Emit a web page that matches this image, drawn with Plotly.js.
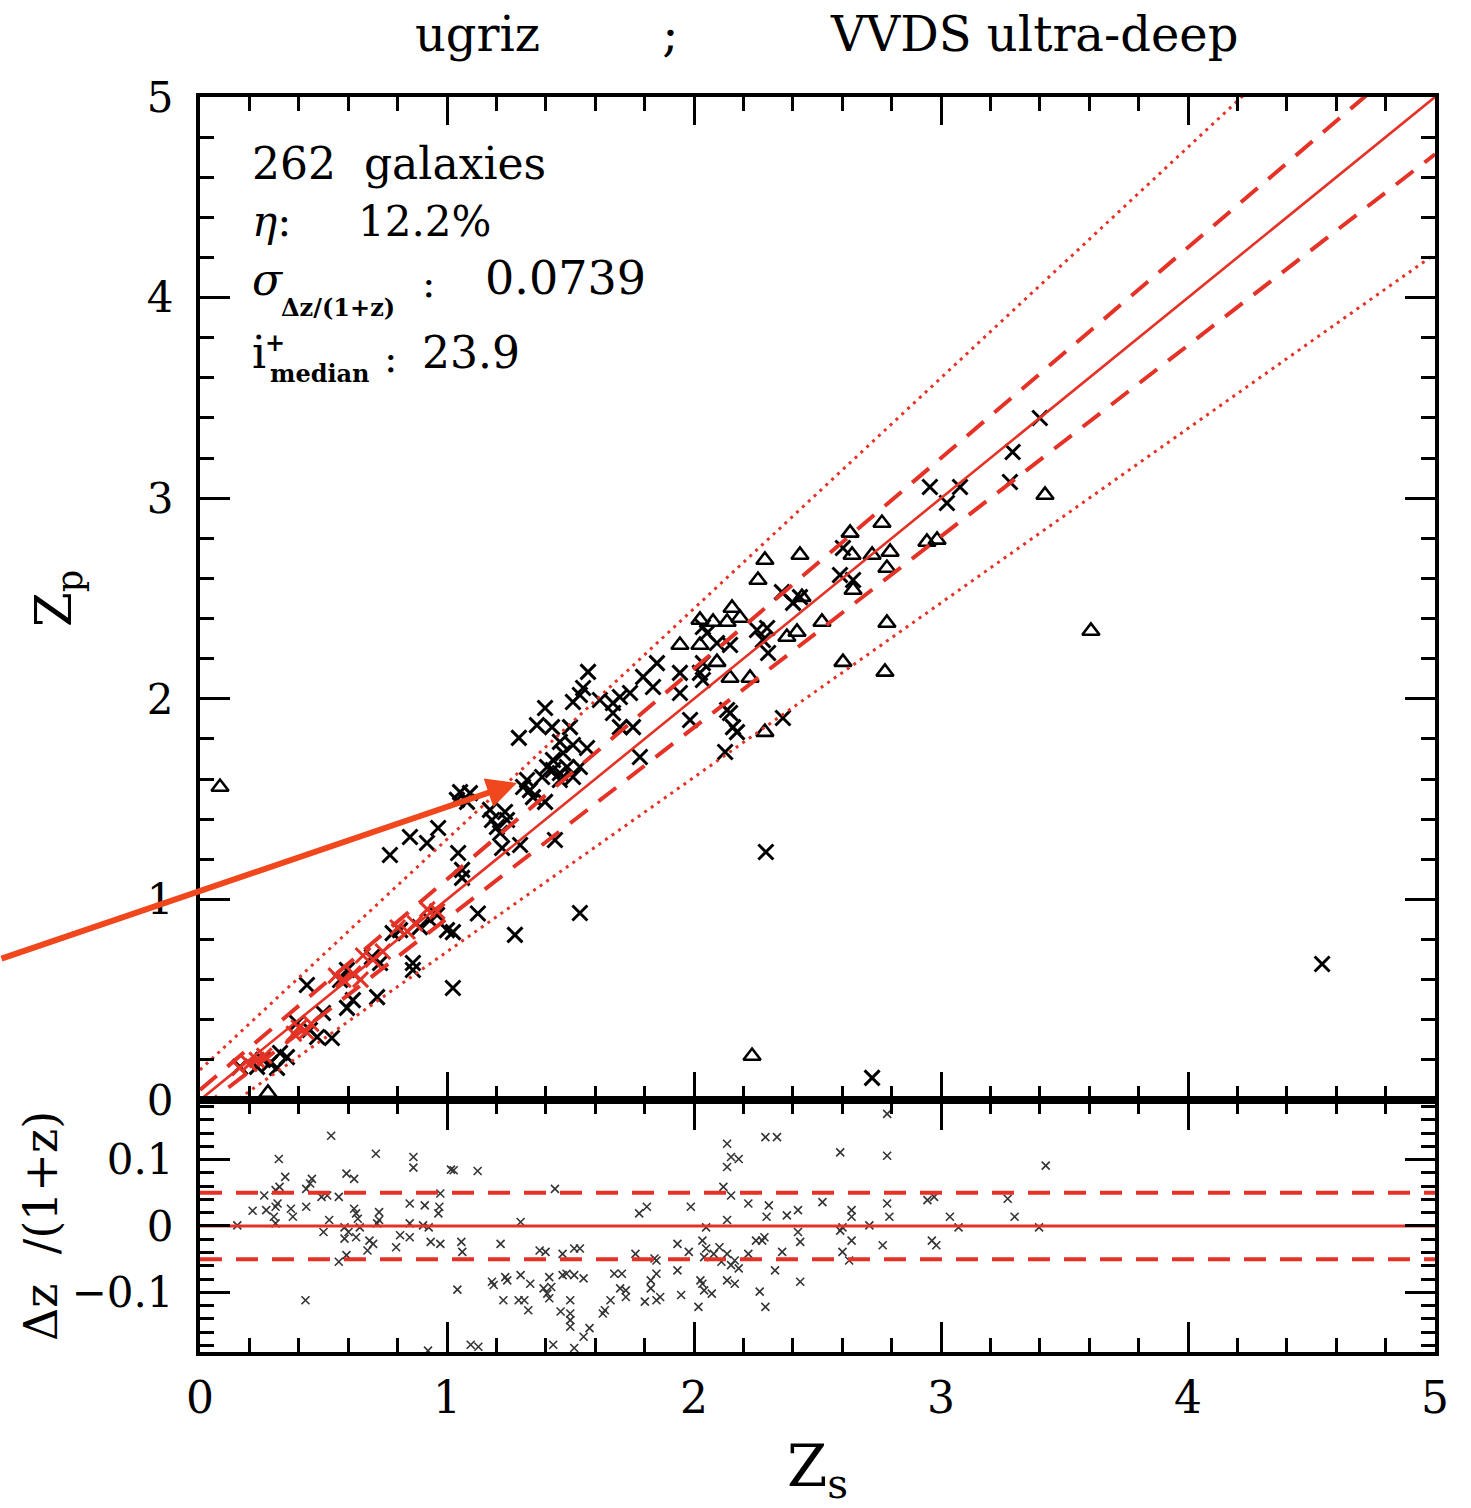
<!DOCTYPE html>
<html>
<head>
<meta charset="utf-8">
<script src="https://cdn.plot.ly/plotly-3.0.1.min.js"></script>
<style>body{margin:0;background:#fff}</style>
</head>
<body>
<div id="chart" style="width:1471px;height:1508px"></div>
<script>
// ---- data ----
// top panel: spectroscopic z (zs) vs photometric z (zp), cross markers
const zsCross = [1.125,1.024,1.024,1.0,0.862,0.862,0.931,0.96,0.89,0.81,0.78,0.696,0.729,0.433,0.717,0.595,0.567,0.619,0.595,0.534,0.498,0.445,0.474,0.393,0.324,0.283,0.312,0.352,0.255,0.231,0.162,
 1.571,1.551,1.538,1.51,1.397,1.364,1.425,1.498,1.291,1.457,1.51,1.567,1.47,1.429,1.405,1.429,1.457,1.486,1.385,1.457,1.51,1.538,1.324,1.308,1.336,1.348,1.397,1.053,1.093,1.04,1.081,1.182,1.202,1.243,1.215,1.174,1.235,0.964,0.85,0.919,0.769,1.045,1.296,1.223,1.437,1.061,1.061,1.538,1.275,
 2.955,3.024,3.077,3.279,2.603,2.591,2.644,2.356,2.429,2.401,2.036,2.053,2.255,2.296,2.093,2.146,2.279,2.3,2.036,2.024,2.036,1.85,1.794,1.834,1.943,1.943,1.984,2.158,2.174,2.36,2.134,2.146,2.126,1.781,1.619,1.672,1.7,1.741,1.672,1.7,1.753,
 2.291,2.721,4.543,3.29,3.4];
const zpCross = [0.93,0.558,0.837,0.847,0.683,0.648,0.897,0.922,0.862,0.847,0.832,0.713,0.683,0.573,0.513,0.648,0.598,0.498,0.459,0.309,0.434,0.349,0.314,0.384,0.234,0.184,0.16,0.214,0.2,0.165,0.165,
 2.134,2.054,2.019,1.984,1.954,1.869,1.859,1.859,1.805,1.785,1.77,1.755,1.73,1.695,1.66,1.645,1.63,1.66,1.61,1.595,1.61,1.66,1.595,1.56,1.545,1.51,1.486,1.535,1.53,1.496,1.486,1.396,1.361,1.396,1.331,1.446,1.436,1.356,1.311,1.281,1.221,1.231,1.271,1.256,1.296,1.147,1.107,0.932,0.823,
 3.056,2.976,3.056,3.081,2.752,2.617,2.592,2.532,2.507,2.478,2.358,2.328,2.343,2.353,2.278,2.268,2.293,2.228,2.178,2.129,2.094,2.178,2.109,2.059,2.129,2.029,1.894,1.859,1.834,1.904,1.944,1.929,1.735,1.71,1.994,1.979,2.009,2.029,1.929,1.859,1.859,
 1.236,0.11,0.678,3.23,3.4];
// top panel: triangle markers
const zsTri = [0.081,0.275,2.235,3.607,3.421,2.761,2.632,2.943,2.984,2.429,2.287,2.64,2.721,2.794,2.781,2.259,2.644,2.437,2.154,2.024,2.077,2.134,2.186,2.518,2.781,2.417,2.376,1.943,2.024,2.093,2.146,2.227,2.287,2.603,2.773];
const zpTri = [1.56,0.035,0.219,2.338,3.016,2.876,2.827,2.782,2.792,2.717,2.692,2.717,2.717,2.732,2.652,2.592,2.542,2.507,2.453,2.393,2.383,2.383,2.403,2.383,2.378,2.333,2.308,2.268,2.268,2.183,2.104,2.104,1.834,2.183,2.134];
// top panel: red cross markers along the one-to-one line at low z
const zsRed = [0.16,0.2,0.23,0.26,0.38,0.4,0.43,0.45,0.55,0.58,0.62,0.65,0.66,0.7,0.74,0.8,0.84,0.87,0.92,0.96];
const zpRed = [0.16,0.18,0.2,0.22,0.33,0.36,0.34,0.38,0.62,0.6,0.63,0.6,0.72,0.7,0.74,0.86,0.84,0.88,0.95,0.94];
// bottom panel: zs vs Δz/(1+z)
const zsResid = [0.531,0.319,0.345,0.322,0.306,0.453,0.43,0.446,0.712,0.864,0.864,0.593,0.624,1.016,1.027,1.124,0.26,0.213,0.268,0.306,0.314,0.368,0.376,0.43,0.492,0.515,0.562,0.299,0.306,0.151,0.5,0.523,0.585,0.601,0.585,0.632,0.624,0.632,0.639,0.647,0.686,0.701,0.678,0.725,0.725,0.717,0.794,0.81,0.849,0.849,0.849,0.91,0.903,0.926,0.934,0.973,0.973,0.969,0.965,0.562,0.593,0.427,1.058,1.062,1.042,1.096,1.127,0.923,
 1.298,1.217,1.437,1.375,1.399,1.468,1.515,1.538,1.182,1.189,1.236,1.244,1.298,1.337,1.228,1.29,1.313,1.329,1.391,1.406,1.422,1.414,1.414,1.468,1.484,1.515,1.553,1.499,1.46,1.499,1.499,1.499,1.577,1.553,1.43,1.515,1.631,1.639,1.662,1.677,1.708,1.701,1.724,1.724,1.763,1.778,1.809,1.801,1.825,1.825,1.848,1.848,1.863,1.84,1.848,1.933,1.948,1.933,1.979,1.987,
 2.018,2.026,2.034,2.041,2.072,2.034,2.049,2.041,2.08,2.103,2.111,2.134,2.15,2.165,2.181,2.049,2.134,2.15,2.119,2.134,2.15,2.181,2.134,2.134,2.165,2.22,2.251,2.22,2.266,2.289,2.328,2.289,2.336,
 2.592,2.782,3.424,2.303,2.294,2.285,2.276,2.376,2.421,2.52,2.421,2.43,2.357,2.43,2.592,2.601,2.638,2.638,2.638,2.601,2.628,2.71,2.782,2.791,2.764,2.945,2.972,2.963,2.981,3.036,3.071,3.27,3.298,3.397,2.782];
const dzResid = [0.136,0.101,0.074,0.059,0.054,0.071,0.056,0.064,0.109,0.104,0.088,0.079,0.071,0.085,0.084,0.083,0.046,0.023,0.024,0.029,0.034,0.026,0.014,0.029,0.044,0.046,0.044,0.014,0.004,0.001,-0.009,0.009,-0.002,-0.009,-0.019,-0.017,0.026,0.019,0.011,-0.002,-0.022,-0.027,-0.037,0.021,0.009,0.004,-0.032,-0.014,-0.017,0.004,0.034,0.031,0.001,-0.002,-0.024,-0.027,0.049,0.029,0.019,-0.054,-0.044,-0.112,-0.024,-0.039,-0.096,-0.179,-0.182,-0.188,
 0.006,-0.027,0.056,-0.037,-0.039,-0.042,-0.034,-0.034,-0.084,-0.089,-0.077,-0.082,-0.074,-0.087,-0.112,-0.112,-0.112,-0.127,-0.094,-0.102,-0.092,-0.109,-0.077,-0.074,-0.072,-0.074,-0.079,-0.112,-0.129,-0.132,-0.142,-0.152,-0.154,-0.167,-0.179,-0.184,-0.132,-0.127,-0.112,-0.072,-0.072,-0.094,-0.097,-0.107,-0.042,0.019,0.029,-0.114,-0.094,-0.082,-0.072,-0.112,-0.107,-0.049,-0.052,-0.067,-0.104,-0.027,-0.039,0.029,
 -0.122,-0.082,-0.087,-0.097,-0.102,-0.022,-0.034,-0.047,-0.042,-0.032,-0.054,-0.042,-0.059,-0.052,-0.064,-0.002,0.009,0.046,0.059,0.089,0.104,0.101,0.124,-0.082,-0.087,-0.042,-0.022,0.034,-0.099,-0.122,-0.067,0.134,0.134,
 0.111,0.106,0.091,0.031,0.014,-0.017,-0.022,0.016,0.024,0.036,-0.009,-0.024,-0.039,-0.084,-0.007,-0.002,-0.022,0.014,0.024,-0.039,-0.052,0.001,0.034,0.014,-0.029,0.039,0.044,-0.022,-0.029,0.014,-0.002,0.041,0.014,-0.002,0.169];
// axis ticks and reference thresholds
const zTickVals = [0,1,2,3,4,5];
const residTickVals = [-0.1,0,0.1];
const residTickText = ['\u22120.1','0','0.1'];
const lineX = [0,5];
const dashK = 0.05;   // dashed band
const dotK = 0.15;    // dotted band (outlier limit)

// ---- drawing ----
const RED = 'rgb(229,50,38)';
const FONT = 'DejaVu Serif';
const NB = n => '\u00a0'.repeat(n);
const up = k => lineX.map(v => v + k*(1+v));
const lo = k => lineX.map(v => (v - k)/(1+k));

const traces = [
  {x: zsCross, y: zpCross, type:'scatter', mode:'markers', xaxis:'x', yaxis:'y',
   marker:{symbol:'x-thin-open', size:15, color:'black', line:{width:3, color:'black'}}},
  {x: zsTri, y: zpTri, type:'scatter', mode:'markers', xaxis:'x', yaxis:'y',
   marker:{symbol:'triangle-up-open', size:15, color:'black', line:{width:2.6, color:'black'}}},
  {x: lineX, y: lineX, type:'scatter', mode:'lines', xaxis:'x', yaxis:'y', line:{color:RED, width:2.6}},
  {x: lineX, y: up(dashK), type:'scatter', mode:'lines', xaxis:'x', yaxis:'y', line:{color:RED, width:4, dash:'22px,14px'}},
  {x: lineX, y: lo(dashK), type:'scatter', mode:'lines', xaxis:'x', yaxis:'y', line:{color:RED, width:4, dash:'22px,14px'}},
  {x: lineX, y: up(dotK), type:'scatter', mode:'lines', xaxis:'x', yaxis:'y', line:{color:RED, width:3, dash:'3px,5px'}},
  {x: lineX, y: lo(dotK), type:'scatter', mode:'lines', xaxis:'x', yaxis:'y', line:{color:RED, width:3, dash:'3px,5px'}},
  {x: zsRed, y: zpRed, type:'scatter', mode:'markers', xaxis:'x', yaxis:'y',
   marker:{symbol:'x-thin-open', size:15, color:RED, line:{width:3, color:RED}}},
  {x: zsResid, y: dzResid, type:'scatter', mode:'markers', xaxis:'x2', yaxis:'y2',
   marker:{symbol:'x-thin-open', size:8, color:'#333', line:{width:1.6, color:'#333'}}},
  {x: lineX, y: [0,0], type:'scatter', mode:'lines', xaxis:'x2', yaxis:'y2', line:{color:RED, width:3}},
  {x: lineX, y: [dashK,dashK], type:'scatter', mode:'lines', xaxis:'x2', yaxis:'y2', line:{color:RED, width:4, dash:'22px,14px'}},
  {x: lineX, y: [-dashK,-dashK], type:'scatter', mode:'lines', xaxis:'x2', yaxis:'y2', line:{color:RED, width:4, dash:'22px,14px'}}
];

const split = 0.2008;
const axBase = {showline:true, linecolor:'black', linewidth:4, mirror:'allticks', ticks:'inside',
  tickcolor:'black', tickwidth:3, showgrid:false, zeroline:false, fixedrange:true};

const txt = (x, y, text, size, extra) => Object.assign({x, y, xref:'x', yref:'y', text, showarrow:false,
  xanchor:'left', yanchor:'middle', font:{family:FONT, size, color:'black'}}, extra||{});

const layout = {
  width:1471, height:1508, showlegend:false,
  paper_bgcolor:'white', plot_bgcolor:'white',
  margin:{l:200, r:36, t:97, b:156},
  font:{family:FONT, color:'black'},
  title:{text:'ugriz' + NB(8) + ';' + NB(10) + 'VVDS ultra-deep',
    font:{family:FONT, size:48, color:'black'}, xref:'paper', x:0.174, xanchor:'left', yref:'container', y:0.977, yanchor:'middle'},
  xaxis: Object.assign({}, axBase, {domain:[0,1], anchor:'y', range:[0,5], tickvals:zTickVals, showticklabels:false,
    ticklen:28, minor:{dtick:0.2, ticklen:14, tickwidth:3, tickcolor:'black', ticks:'inside'}}),
  yaxis: Object.assign({}, axBase, {domain:[split,1], anchor:'x', range:[0,5], tickvals:zTickVals,
    ticklen:30, minor:{dtick:0.2, ticklen:14, tickwidth:3, tickcolor:'black', ticks:'inside'},
    tickfont:{family:FONT, size:42}, ticklabelstandoff:14,
    title:{text:'Z<sub>p</sub>', font:{family:FONT, size:50}, standoff:60}}),
  xaxis2: Object.assign({}, axBase, {domain:[0,1], anchor:'y2', range:[0,5], tickvals:zTickVals,
    ticklen:30, minor:{dtick:0.2, ticklen:14, tickwidth:3, tickcolor:'black', ticks:'inside'},
    tickfont:{family:FONT, size:44}, ticklabelstandoff:4,
    title:{text:'Z<sub>s</sub>', font:{family:FONT, size:58}, standoff:42}}),
  yaxis2: Object.assign({}, axBase, {domain:[0,split], anchor:'x2', range:[-0.19,0.19], tickvals:residTickVals, ticktext:residTickText,
    ticklen:30, minor:{dtick:0.02, ticklen:14, tickwidth:3, tickcolor:'black', ticks:'inside'},
    tickfont:{family:FONT, size:42}, ticklabelstandoff:14,
    title:{text:'\u0394z' + NB(2) + '/(1+z)', font:{family:FONT, size:46}, standoff:0}}),
  annotations: [
    txt(0.204, 4.67, '262' + NB(2) + 'galaxies', 44),
    txt(0.204, 4.377, '<i>\u03b7</i>:' + NB(5) + '12.2%', 42),
    txt(0.204, 4.088, '<i>\u03c3</i>', 44),
    txt(0.32, 3.953, '<b>\u0394z/(1+z)</b>', 24),
    txt(0.89, 4.073, ':', 40),
    txt(1.146, 4.098, '0.0739', 46),
    txt(0.204, 3.724, 'i', 44),
    txt(0.255, 3.774, '<b>+</b>', 24),
    txt(0.275, 3.624, '<b>median</b>', 24),
    txt(0.735, 3.699, ':', 40),
    txt(0.891, 3.724, '23.9', 44),
    {x:1.283, y:1.58, xref:'x', yref:'y', ax:-517, ay:176, axref:'pixel', ayref:'pixel', text:'',
     showarrow:true, arrowhead:2, arrowsize:1, arrowwidth:6, arrowcolor:'#f1471c'}
  ]
};

Plotly.newPlot('chart', traces, layout, {staticPlot:true, displayModeBar:false});
</script>
</body>
</html>
